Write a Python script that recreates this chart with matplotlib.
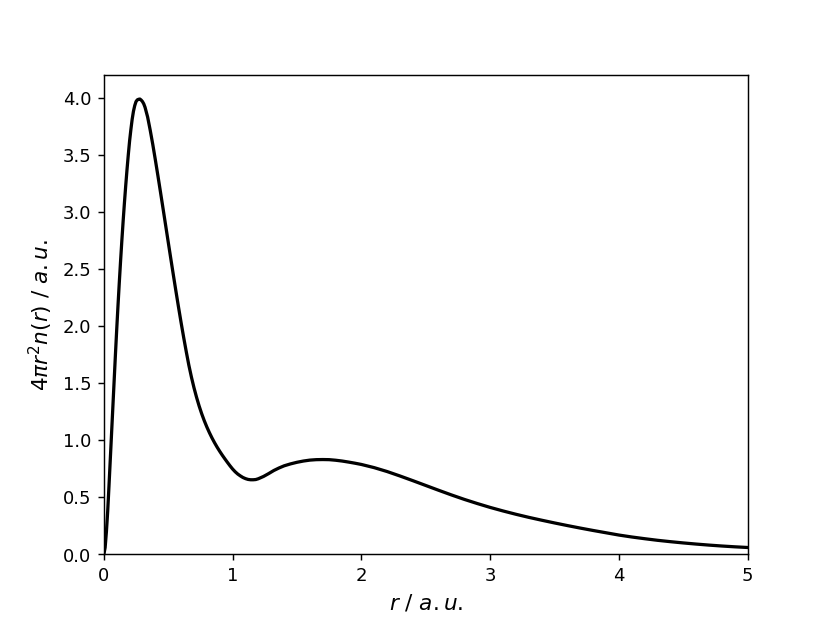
import matplotlib
matplotlib.use('Agg')
import matplotlib.pyplot as plt

# radial distance r (a.u.)
r_values = [0.0, 0.01, 0.02, 0.03, 0.04, 0.05, 0.06, 0.07, 0.08, 0.09,
            0.10, 0.11, 0.12, 0.13, 0.14, 0.15, 0.16, 0.17, 0.18, 0.19,
            0.20, 0.21, 0.22, 0.23, 0.24, 0.25, 0.26, 0.27, 0.28, 0.29,
            0.30, 0.31, 0.32, 0.34, 0.36, 0.38, 0.40, 0.42, 0.44, 0.46,
            0.48, 0.50, 0.52, 0.54, 0.56, 0.58, 0.60, 0.62, 0.64, 0.66,
            0.68, 0.70, 0.72, 0.74, 0.76, 0.78, 0.80, 0.82, 0.84, 0.86,
            0.88, 0.90, 0.92, 0.94, 0.96, 0.98, 1.00, 1.02, 1.04, 1.06,
            1.08, 1.10, 1.12, 1.14, 1.16, 1.18, 1.20, 1.24, 1.28, 1.32,
            1.36, 1.40, 1.45, 1.50, 1.55, 1.60, 1.65, 1.70, 1.75, 1.80,
            1.85, 1.90, 1.95, 2.00, 2.10, 2.20, 2.30, 2.40, 2.50, 2.60,
            2.70, 2.80, 2.90, 3.00, 3.10, 3.20, 3.30, 3.40, 3.50, 3.60,
            3.70, 3.80, 3.90, 4.00, 4.10, 4.20, 4.30, 4.40, 4.50, 4.60,
            4.70, 4.80, 4.90, 5.00]
# radial density 4*pi*r^2*n(r)
density = [0.0, 0.06, 0.2, 0.38, 0.6, 0.83, 1.06, 1.29, 1.52, 1.75,
           1.97, 2.18, 2.38, 2.57, 2.75, 2.92, 3.08, 3.23, 3.37, 3.5,
           3.62, 3.72, 3.81, 3.88, 3.93, 3.965, 3.98, 3.985, 3.987, 3.978,
           3.965, 3.945, 3.915, 3.83, 3.715, 3.59, 3.455, 3.315, 3.172, 3.027,
           2.881, 2.735, 2.59, 2.446, 2.304, 2.165, 2.03, 1.90, 1.776, 1.658,
           1.554, 1.46, 1.376, 1.30, 1.232, 1.171, 1.116, 1.066, 1.02, 0.978,
           0.939, 0.903, 0.869, 0.837, 0.806, 0.776, 0.748, 0.724, 0.704, 0.688,
           0.674, 0.664, 0.657, 0.654, 0.654, 0.656, 0.663, 0.683, 0.708, 0.735,
           0.757, 0.776, 0.793, 0.807, 0.818, 0.826, 0.830, 0.831, 0.830, 0.825,
           0.818, 0.809, 0.799, 0.788, 0.760, 0.726, 0.687, 0.646, 0.604, 0.562,
           0.521, 0.482, 0.446, 0.412, 0.381, 0.352, 0.325, 0.300, 0.276, 0.253,
           0.231, 0.210, 0.190, 0.170, 0.153, 0.138, 0.124, 0.112, 0.101, 0.091,
           0.082, 0.074, 0.067, 0.061]

fig, ax = plt.subplots(figsize=(6.4, 4.8), dpi=129.8)
ax.plot(r_values, density, color='black', lw=1.8)
ax.set_xlim(0, 5)
ax.set_ylim(0, 4.2)
ax.set_xlabel(r'$r$ / $a.u.$', fontsize=12)
ax.set_ylabel(r'$4\pi r^2 n(r)$ / $a.u.$', fontsize=12)

fig.savefig('out.png', dpi=129.8)
